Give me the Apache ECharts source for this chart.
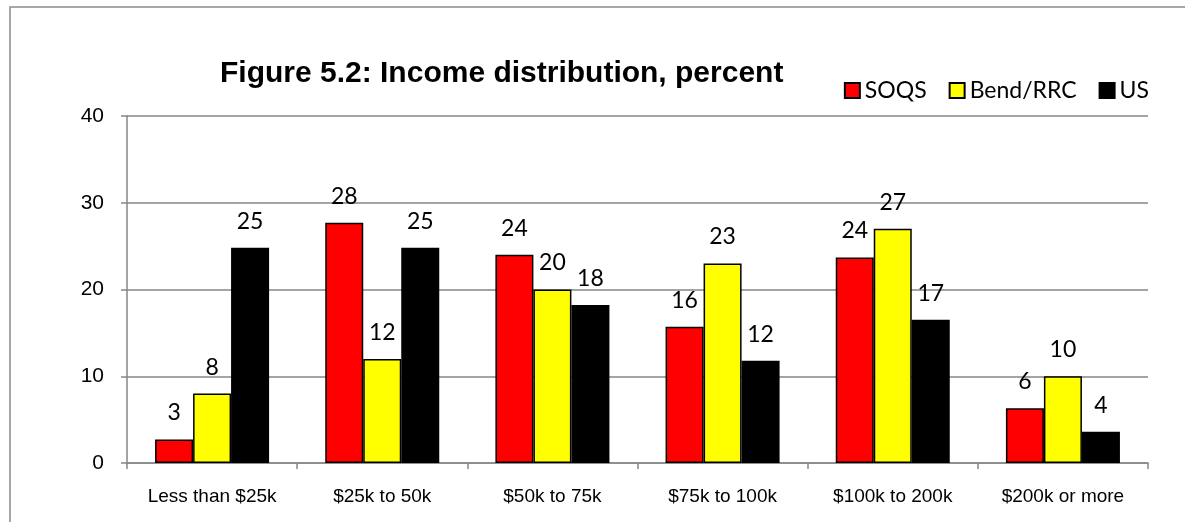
<!DOCTYPE html>
<html>
<head>
<meta charset="utf-8">
<script src="https://cdn.jsdelivr.net/npm/echarts@6/dist/echarts.min.js"></script>
<style>
  html, body { margin: 0; padding: 0; background: #fff; }
  #chart { width: 1185px; height: 522px; }
</style>
</head>
<body>
<div id="chart"></div>
<script>
// categories and values
const categories = ['Less than $25k', '$25k to 50k', '$50k to 75k', '$75k to 100k', '$100k to 200k', '$200k or more'];
const soqs = [2.7, 27.7, 24.0, 15.7, 23.7, 6.3];
const bend = [8.0, 12.0, 20.0, 23.0, 27.0, 10.0];
const us = [24.8, 24.8, 18.2, 11.8, 16.5, 3.6];
const yTicks = [0, 10, 20, 30, 40];

const axisGray = '#868686';

function barSeries(name, data, color) {
    return {
        name: name,
        type: 'bar',
        data: data,
        barGap: '0%',
        barCategoryGap: '33%',
        itemStyle: { color: color, borderColor: '#000', borderWidth: 1.5 },
        label: {
            show: true,
            position: 'top',
            distance: 15,
            color: '#000',
            fontFamily: 'Lato',
            fontSize: 23,
            formatter: p => Math.round(p.value)
        }
    };
}

const chart = echarts.init(document.getElementById('chart'));
chart.setOption({
    animation: false,
    backgroundColor: '#fff',
    graphic: [{
        type: 'rect',
        shape: { x: 10, y: 7, width: 1200, height: 540 },
        style: { fill: 'none', stroke: '#8a8a8a', lineWidth: 1.5 },
        silent: true
    }],
    title: {
        text: 'Figure 5.2: Income distribution, percent',
        left: 215,
        top: 54,
        textStyle: { fontFamily: 'Liberation Sans', fontWeight: 'bold', fontSize: 30, color: '#000' }
    },
    legend: {
        right: 31,
        top: 74,
        itemWidth: 15,
        itemHeight: 15,
        itemGap: 22,
        icon: 'rect',
        textStyle: { fontFamily: 'Lato', fontSize: 23, color: '#000', padding: [0, 0, 0, 0] },
        data: ['SOQS', 'Bend/RRC', 'US']
    },
    grid: { left: 127, right: 37, top: 116, bottom: 59 },
    xAxis: {
        type: 'category',
        data: categories,
        axisLine: { lineStyle: { color: axisGray, width: 1.5 } },
        axisTick: { show: true, interval: 0, length: 6, lineStyle: { color: axisGray, width: 1.5 } },
        axisLabel: { interval: 0, margin: 24, fontFamily: 'Liberation Sans', fontSize: 19, color: '#000' }
    },
    yAxis: {
        type: 'value',
        min: yTicks[0],
        max: yTicks[yTicks.length - 1],
        interval: 10,
        axisLine: { show: true, lineStyle: { color: axisGray, width: 1.5 } },
        axisTick: { show: true, length: 6, lineStyle: { color: axisGray, width: 1.5 } },
        splitLine: { lineStyle: { color: axisGray, width: 1.5 } },
        axisLabel: { margin: 23, fontFamily: 'Liberation Sans', fontSize: 21, color: '#000' }
    },
    series: [
        barSeries('SOQS', soqs, '#ff0000'),
        barSeries('Bend/RRC', bend, '#ffff00'),
        barSeries('US', us, '#000000')
    ]
});
</script>
</body>
</html>
